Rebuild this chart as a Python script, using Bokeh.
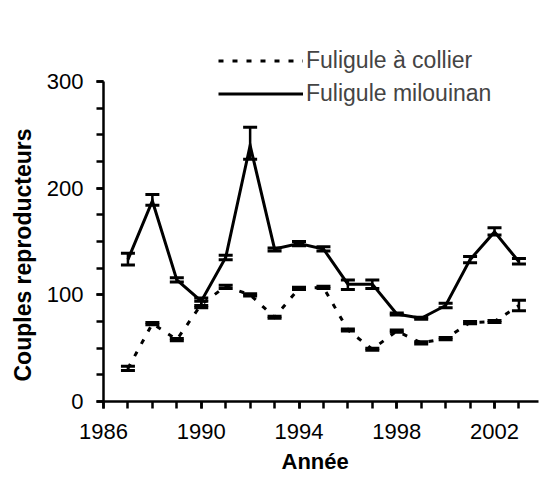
from bokeh.plotting import figure
from bokeh.models import (ColumnDataSource, Whisker, TeeHead, FixedTicker, Range1d,
                          Legend, LegendItem, Title)
from bokeh.embed import file_html
from bokeh.resources import INLINE

years = [1987, 1988, 1989, 1990, 1991, 1992, 1993, 1994, 1995,
         1996, 1997, 1998, 1999, 2000, 2001, 2002, 2003]

milouinan = [133, 188, 114, 94, 135, 240, 143, 148, 143, 110, 110, 82, 78, 90, 133, 159, 131]
milouinan_lo = [128, 184, 112, 90, 133, 227, 141, 146, 141, 105, 106, 81, 77, 88, 130, 156, 129]
milouinan_hi = [139, 194, 116, 97, 137, 257, 144, 150, 145, 114, 114, 83, 79, 92, 136, 163, 134]

collier = [31, 73, 58, 91, 108, 100, 79, 106, 107, 67, 49, 66, 55, 59, 74, 75, 90]
collier_lo = [29, 72, 57, 88, 106, 99, 78, 105, 106, 66, 48, 65, 54, 58, 73, 74, 85]
collier_hi = [33, 74, 59, 94, 109, 101, 80, 107, 108, 68, 50, 67, 56, 60, 75, 76, 95]

x_major = [1986, 1990, 1994, 1998, 2002]
x_minor = list(range(1986, 2004))
y_major = [0, 100, 200, 300]
y_minor = list(range(0, 301, 25))

FONT = "Liberation Sans"

src_m = ColumnDataSource(dict(x=years, y=milouinan, lo=milouinan_lo, hi=milouinan_hi))
src_c = ColumnDataSource(dict(x=years, y=collier, lo=collier_lo, hi=collier_hi))

p = figure(width=540, height=482, output_backend="svg", toolbar_location=None,
           x_range=Range1d(1986, 2003.8), y_range=Range1d(0, 333.75),
           min_border_left=102, min_border_right=2, min_border_top=45, min_border_bottom=81)
p.outline_line_color = None
p.grid.visible = False
p.background_fill_color = "white"
p.border_fill_color = "white"

r_c = p.line('x', 'y', source=src_c, line_color="black", line_width=3,
             line_dash="5 9", line_join="miter")
r_m = p.line('x', 'y', source=src_m, line_color="black", line_width=3, line_join="miter")

for src in (src_c, src_m):
    w = Whisker(source=src, base='x', lower='lo', upper='hi', line_color="black", line_width=2.5,
                lower_head=TeeHead(size=14, line_width=3, line_color="black"),
                upper_head=TeeHead(size=14, line_width=3, line_color="black"))
    p.add_layout(w)

for ax in (p.xaxis[0], p.yaxis[0]):
    ax.axis_line_width = 2.5
    ax.axis_line_color = "black"
    ax.major_tick_line_width = 2.5
    ax.minor_tick_line_width = 2.5
    ax.major_tick_line_color = "black"
    ax.minor_tick_line_color = "black"
    ax.major_tick_in = 0
    ax.major_tick_out = 7
    ax.minor_tick_in = 0
    ax.minor_tick_out = 7
    ax.major_label_text_font = FONT
    ax.major_label_text_font_size = "22px"
    ax.major_label_text_color = "black"

p.xaxis.ticker = FixedTicker(ticks=x_major, minor_ticks=x_minor)
p.yaxis.ticker = FixedTicker(ticks=y_major, minor_ticks=y_minor)
p.yaxis.bounds = (0, 300)
p.xaxis.major_label_standoff = 15
p.yaxis.major_label_standoff = 13

xtitle = Title(text="Année", align="left", offset=178, standoff=11,
               text_font=FONT, text_font_size="22px", text_font_style="bold",
               text_color="black")
p.add_layout(xtitle, "below")

ytitle = Title(text="Couples reproducteurs", align="left", offset=20, standoff=15,
               text_font=FONT, text_font_size="23px", text_font_style="bold",
               text_color="black")
p.add_layout(ytitle, "left")

legend = Legend(items=[LegendItem(label="Fuligule à collier", renderers=[r_c]),
                       LegendItem(label="Fuligule milouinan", renderers=[r_m])],
                location=(115, 294), glyph_width=85, glyph_height=25, label_height=25,
                label_standoff=3, padding=0, margin=0, spacing=6,
                border_line_color=None, background_fill_alpha=0,
                label_text_font=FONT, label_text_font_size="23px")
p.add_layout(legend)

open("out.html", "w").write(file_html(p, INLINE))
